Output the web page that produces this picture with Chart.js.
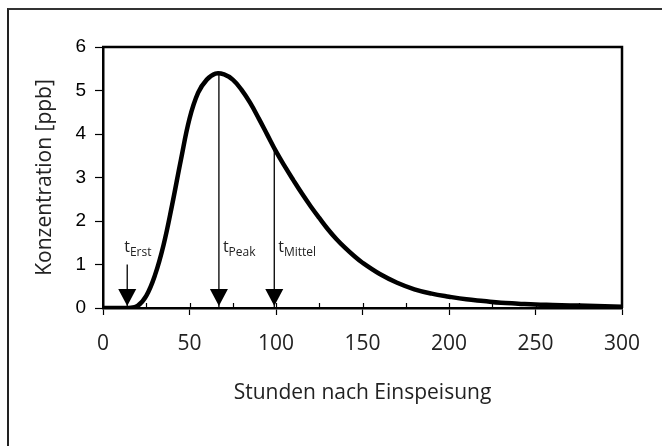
<!DOCTYPE html>
<html><head><meta charset="utf-8">
<script src="https://cdn.jsdelivr.net/npm/chart.js@4"></script>
<style>
html,body{margin:0;padding:0;background:#fff;}
#wrap{position:relative;width:662px;height:446px;overflow:hidden;}
#frame{position:absolute;left:7px;top:8px;width:800px;height:600px;border-top:2px solid #333;border-left:2px solid #222;}
canvas{position:absolute;left:0;top:0;}
</style></head><body>
<div id="wrap"><div id="frame"></div><canvas id="c" width="662" height="446"></canvas></div>
<script>
const hours = [0,5,10,15,20,25,30,35,40,45,50,55,60,65,70,75,80,85,90,95,100,105,110,115,120,125,130,135,140,145,150,160,170,180,190,200,210,220,230,240,250,260,270,280,290,300];
const concentration = [0,0,0,0,0.05,0.28,0.75,1.45,2.38,3.4,4.35,4.95,5.25,5.39,5.37,5.25,5.02,4.72,4.36,3.98,3.6,3.26,2.94,2.63,2.34,2.07,1.81,1.58,1.38,1.2,1.04,0.78,0.58,0.43,0.33,0.26,0.2,0.16,0.12,0.1,0.08,0.07,0.06,0.05,0.04,0.03];
const arrowNames = ['Erst','Peak','Mittel'];
const arrowHours = [14, 67, 99];
const arrowTops = [1.0, 5.4, 3.63];
const xTicks = [0,50,100,150,200,250,300];
const yTicks = [0,1,2,3,4,5,6];

const decor = {
  id:'decor',
  afterDatasetsDraw(chart){
    const {ctx, chartArea:a, scales:{x,y}} = chart;
    ctx.save();
    ctx.strokeStyle='#000'; ctx.fillStyle='#000';
    ctx.lineWidth=2.5;
    ctx.beginPath(); ctx.moveTo(a.left-1,a.top); ctx.lineTo(a.right,a.top); ctx.lineTo(a.right,a.bottom); ctx.stroke();
    ctx.lineWidth=1.2;
    for(let v=25; v<300; v+=25){
      const px=Math.round(x.getPixelForValue(v))+0.5;
      ctx.beginPath(); ctx.moveTo(px,a.bottom); ctx.lineTo(px,a.bottom-5); ctx.stroke();
    }
    const base = y.getPixelForValue(1.29);
    arrowHours.forEach((h,i)=>{
      const px=x.getPixelForValue(h), py=y.getPixelForValue(0)-2;
      ctx.fillStyle='#000';
      ctx.beginPath(); ctx.moveTo(px,py); ctx.lineTo(px-9,py-17); ctx.lineTo(px+9,py-17); ctx.closePath(); ctx.fill();
      let tx = i===0 ? px-3 : px+4;
      ctx.fillStyle='#222';
      ctx.textBaseline='alphabetic'; ctx.textAlign='left';
      ctx.font='16px "Open Sans"';
      ctx.fillText('t', tx, base);
      const tw = ctx.measureText('t').width;
      ctx.font='12px "Open Sans"';
      ctx.fillText(arrowNames[i], tx+tw, base+4);
    });
    ctx.restore();
  }
};

const datasets = [{
  data: hours.map((h,i)=>({x:h,y:concentration[i]})),
  borderColor:'#000', borderWidth:4.5, pointRadius:0, tension:0.4, fill:false
}];
arrowHours.forEach((h,i)=>{
  datasets.push({data:[{x:h,y:arrowTops[i]},{x:h,y:0}], borderColor:'#000', borderWidth:1.3, pointRadius:0, fill:false});
});

new Chart(document.getElementById('c'), {
  type:'line',
  data:{datasets},
  options:{
    responsive:false, animation:false,
    plugins:{legend:{display:false}, tooltip:{enabled:false}},
    layout:{padding:{top:47,right:40,left:0,bottom:0}},
    scales:{
      x:{type:'linear', min:0, max:300,
        afterBuildTicks(s){ s.ticks = xTicks.map(v=>({value:v})); },
        ticks:{color:'#222', font:{family:'Open Sans', size:21}, padding:16, maxRotation:0},
        grid:{drawOnChartArea:false, tickLength:7, tickColor:'#000', tickWidth:1.2},
        border:{color:'#000', width:2.5},
        title:{display:true, text:'Stunden nach Einspeisung', color:'#222', font:{family:'Open Sans', size:21}, padding:{top:0,bottom:40}},
        afterFit(s){ s.height=138; }
      },
      y:{type:'linear', min:0, max:6,
        afterBuildTicks(s){ s.ticks = yTicks.map(v=>({value:v})); },
        ticks:{color:'#000', font:{family:'Liberation Sans', size:19}, padding:9},
        grid:{drawOnChartArea:false, tickLength:8, tickColor:'#000', tickWidth:1.2},
        border:{color:'#000', width:2.5},
        title:{display:true, text:'Konzentration [ppb]', color:'#222', font:{family:'Open Sans', size:21}, padding:{top:32,bottom:0}},
        afterFit(s){ s.width=103; }
      }
    }
  },
  plugins:[decor]
});
</script>
</body></html>
